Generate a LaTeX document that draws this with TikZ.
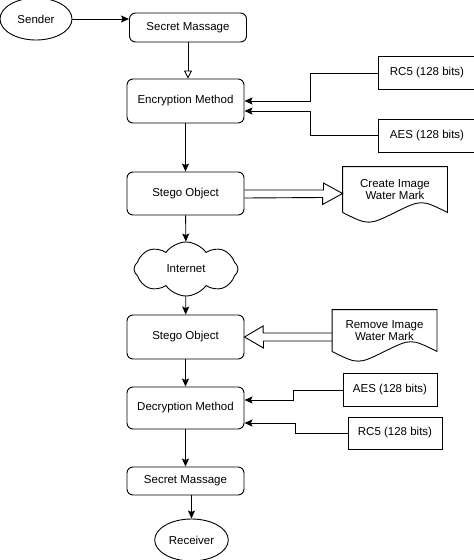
\documentclass[tikz,border=0pt]{standalone}
\usepackage{fontspec}
\setmainfont{Liberation Sans}
\usetikzlibrary{shapes.geometric,shapes.symbols}
\usetikzlibrary{arrows.meta}
\usetikzlibrary{calc}

\tikzset{
  box/.style={draw, rounded corners=6pt, minimum width=117, align=center},
  keybox/.style={draw, minimum width=94, minimum height=33},
  actor/.style={draw, ellipse, minimum width=72, minimum height=42},
  wm/.style={minimum width=104, align=center},
  arr/.style={-{Stealth[length=8pt,width=7pt,inset=1.5pt]}},
}
% contour "document" avec le bas ondule
\newcommand\wmoutline[1]{%
  \draw (#1.south west) -- (#1.north west) -- (#1.north east) -- (#1.south east)
    .. controls ($(#1.south east)+(-26,-13)$) .. (#1.south)
    .. controls ($(#1.south west)+(26,13)$) .. (#1.south west);}

\begin{document}
\begin{tikzpicture}[x=1pt, y=-1pt, line width=0.9pt, font=\fontsize{11.5}{12}\selectfont]
  \useasboundingbox (0,0) rectangle (474,560);

  \node[actor] (snd) at (36,19) {Sender};
  \node[box, minimum height=29] (sm1) at (188,27.5) {Secret Massage};
  \node[box, minimum height=44] (enc) at (185.5,101) {Encryption Method};
  \node[keybox, minimum width=98] (rc5a) at (427,73) {RC5 (128 bits)};
  \node[keybox, minimum width=98] (aesa) at (427,135.5) {AES (128 bits)};
  \node[box, minimum height=43] (stg1) at (185.5,193.5) {Stego Object};
  \node[wm, minimum height=45] (wm1) at (395,189.5) {Create Image\\Water Mark};
  \node[draw, cloud, cloud puffs=8, cloud puff arc=110, aspect=2.1, minimum width=104, minimum height=54] (net) at (186,269) {Internet};
  \node[box, minimum height=44] (stg2) at (185.5,337) {Stego Object};
  \node[wm, minimum height=41] (wm2) at (384.5,330.5) {Remove Image\\Water Mark};
  \node[box, minimum height=42] (dec) at (185.5,408) {Decryption Method};
  \node[keybox] (aesb) at (390,390) {AES (128 bits)};
  \node[keybox, minimum height=32] (rc5b) at (395,433) {RC5 (128 bits)};
  \node[box, minimum height=28] (sm2) at (185.5,481) {Secret Massage};
  \node[actor, minimum width=73] (rcv) at (191.5,540) {Receiver};

  \wmoutline{wm1}
  \wmoutline{wm2}

  % fleches
  \draw[arr] (snd.east) -- (snd.east -| sm1.west);
  \draw[-{Triangle[open,length=8pt,width=8pt]}] (sm1.south) -- (sm1.south |- enc.north);
  \draw[arr] (rc5a.west) -- ++(-67,0) |- (enc.east);
  \draw[arr] (aesa.west) -- ++(-67,0) |- ($(enc.east)+(0,10)$);
  \draw[arr] (enc) -- (stg1);
  \draw[arr] (stg1) -- (net);
  \draw[arr] (net) -- (stg2);
  \draw[arr] (stg2) -- (dec);
  \draw[arr] (aesb.west) -- ++(-49,0) |- ($(dec.east)+(0,-8)$);
  \draw[arr] (rc5b.west) -- ++(-52,0) |- ($(dec.east)+(0,15)$);
  \draw[arr] (dec) -- (sm2);
  \draw[arr] (rcv.north |- sm2.south) -- (rcv.north);

  % fleches creuses vers / depuis le filigrane
  \draw ($(stg1.east)+(0,-3.5)$) -- ++(79,0) -- ++(0,-7) -- (wm1.west |- stg1.east)
    -- ++(-20,11) -- ++(0,-7) -- ($(stg1.east)+(0,4.5)$);
  \draw ($(wm2.west |- stg2.east)+(0,-4)$) -- ++(-69,0) -- ++(0,-7) -- (stg2.east)
    -- ++(19,11) -- ++(0,-7) -- ($(wm2.west |- stg2.east)+(0,4)$);
\end{tikzpicture}
\end{document}
